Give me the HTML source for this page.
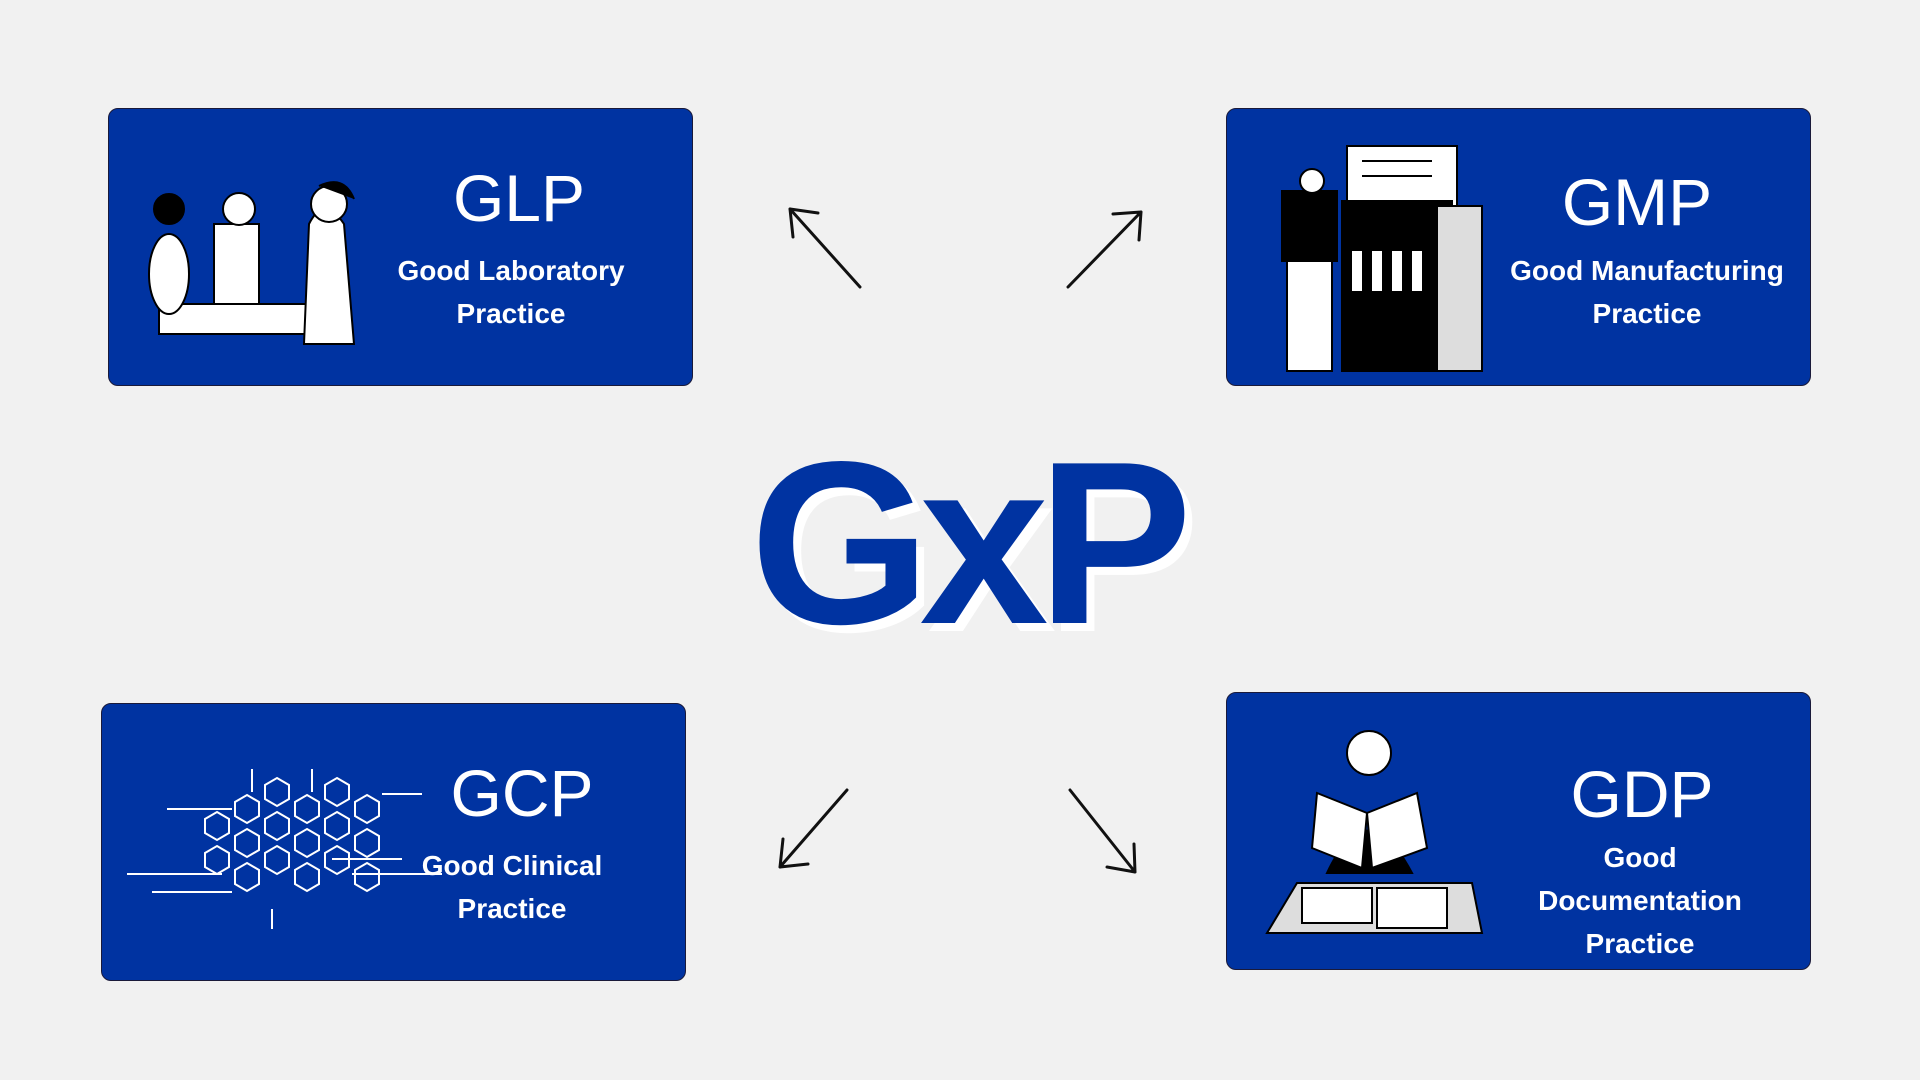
<!DOCTYPE html>
<html><head><meta charset="utf-8"><style>
body{margin:0;width:1920px;height:1080px;background:#f1f1f1;position:relative;overflow:hidden;font-family:"Liberation Sans",sans-serif}
.box{position:absolute;width:585px;height:278px;background:#0033a1;border:1px solid #1a1a3a;border-radius:10px;box-sizing:border-box;color:#fff}
.t{position:absolute;font-size:66px;text-align:center;width:320px;line-height:1}
.s{position:absolute;font-size:28px;font-weight:bold;text-align:center;width:340px;line-height:43px}
.gxp{position:absolute;left:750px;top:428px;font-size:232px;font-weight:bold;color:#0033a1;letter-spacing:-11px;text-shadow:8px 8px 0 #fff;line-height:1}
svg{position:absolute}
</style></head><body>
<div class="box" style="left:108px;top:108px">
<svg style="left:20px;top:55px" width="260" height="190"><g fill="#fff" stroke="#000" stroke-width="2">
<rect x="30" y="140" width="150" height="30"/><ellipse cx="40" cy="110" rx="20" ry="40"/><circle cx="40" cy="45" r="15" fill="#000"/>
<rect x="85" y="60" width="45" height="80"/><circle cx="110" cy="45" r="16"/><path d="M180 60 Q195 30 215 60 L225 180 L175 180 Z"/><circle cx="200" cy="40" r="18"/><path d="M190 22 Q215 10 225 35" fill="#000"/></g></svg>
<div class="t" style="left:250px;top:56px">GLP</div>
<div class="s" style="left:232px;top:140px">Good Laboratory<br>Practice</div></div>
<div class="box" style="left:1226px;top:108px">
<svg style="left:45px;top:32px" width="220" height="235"><g stroke="#000" stroke-width="2">
<rect x="75" y="5" width="110" height="60" fill="#fff"/><rect x="70" y="60" width="110" height="170" fill="#000"/>
<rect x="10" y="50" width="55" height="70" fill="#000"/><circle cx="40" cy="40" r="12" fill="#fff"/><rect x="15" y="120" width="45" height="110" fill="#fff"/>
<rect x="165" y="65" width="45" height="165" fill="#ddd"/><line x1="90" y1="20" x2="160" y2="20"/><line x1="90" y1="35" x2="160" y2="35"/></g>
<g fill="#fff"><rect x="80" y="110" width="10" height="40"/><rect x="100" y="110" width="10" height="40"/><rect x="120" y="110" width="10" height="40"/><rect x="140" y="110" width="10" height="40"/></g></svg>
<div class="t" style="left:250px;top:60px">GMP</div>
<div class="s" style="left:250px;top:140px">Good Manufacturing<br>Practice</div></div>
<div class="box" style="left:101px;top:703px">
<svg style="left:20px;top:60px" width="320" height="180"><g fill="none" stroke="#fff" stroke-width="2">
<path id="h" d="M0 -14 L12 -7 L12 7 L0 14 L-12 7 L-12 -7Z" transform="translate(125,45)"/>
<use href="#h" x="30" y="-17"/><use href="#h" x="60" y="0"/><use href="#h" x="90" y="-17"/><use href="#h" x="120" y="0"/>
<use href="#h" x="-30" y="17"/><use href="#h" x="0" y="34"/><use href="#h" x="30" y="17"/><use href="#h" x="60" y="34"/><use href="#h" x="90" y="17"/><use href="#h" x="120" y="34"/>
<use href="#h" x="-30" y="51"/><use href="#h" x="0" y="68"/><use href="#h" x="30" y="51"/><use href="#h" x="60" y="68"/><use href="#h" x="90" y="51"/><use href="#h" x="120" y="68"/>
<path d="M45 45 H110 M5 110 H100 M30 128 H110 M150 145 V165 M130 5 V28 M190 5 V28 M260 30 H300 M230 110 H330 M210 95 H280"/></g></svg>
<div class="t" style="left:260px;top:56px">GCP</div>
<div class="s" style="left:240px;top:140px">Good Clinical<br>Practice</div></div>
<div class="box" style="left:1226px;top:692px">
<svg style="left:30px;top:25px" width="240" height="230"><g stroke="#000" stroke-width="2">
<path d="M10 215 L40 165 L215 165 L225 215Z" fill="#ddd"/><rect x="45" y="170" width="70" height="35" fill="#fff"/><rect x="120" y="170" width="70" height="40" fill="#fff"/>
<path d="M70 155 Q110 70 155 155Z" fill="#000"/><circle cx="112" cy="35" r="22" fill="#fff"/>
<path d="M60 75 L110 95 L105 150 L55 130Z M160 75 L110 95 L115 150 L170 130Z" fill="#fff"/></g></svg>
<div class="t" style="left:255px;top:68px">GDP</div>
<div class="s" style="left:243px;top:143px">Good<br>Documentation<br>Practice</div></div>
<div class="gxp">GxP</div>
<svg style="left:0;top:0" width="1920" height="1080"><g stroke="#111" stroke-width="3" fill="none" stroke-linecap="round">
<path d="M860 287 L790 209 M790 209 L793 237 M790 209 L818 213"/>
<path d="M1068 287 L1141 212 M1141 212 L1113 214 M1141 212 L1139 240"/>
<path d="M847 790 L780 867 M780 867 L783 839 M780 867 L808 864"/>
<path d="M1070 790 L1135 872 M1135 872 L1107 867 M1135 872 L1134 844"/></g></svg>
</body></html>
